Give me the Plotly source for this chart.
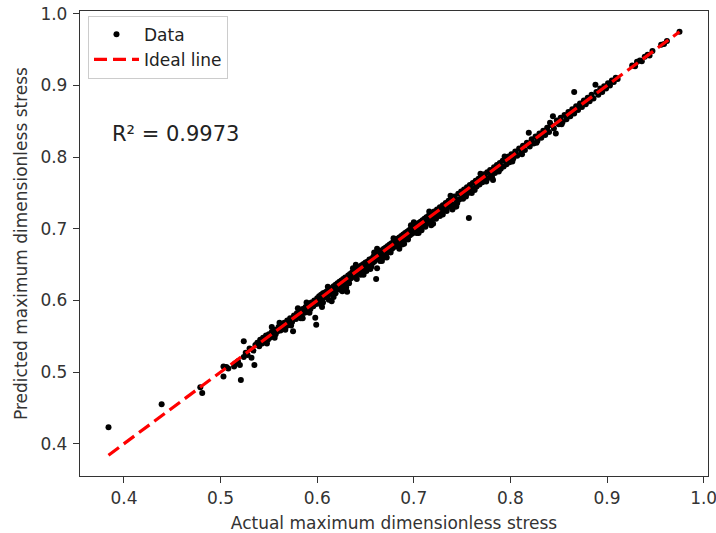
import plotly.graph_objects as go

# Actual (x) and predicted (y) maximum dimensionless stress
actual = [
    0.384, 0.439, 0.479, 0.481,
    0.503, 0.503, 0.506, 0.508, 0.514, 0.515, 0.518, 0.521, 0.520, 0.524,
    0.524, 0.526, 0.528, 0.530, 0.532, 0.534, 0.535, 0.536,
    0.538, 0.540, 0.541, 0.543, 0.544, 0.546, 0.547, 0.549, 0.550, 0.551,
    0.553, 0.554, 0.556, 0.557, 0.559, 0.560, 0.562, 0.563, 0.565, 0.566,
    0.568, 0.569, 0.571, 0.572, 0.574, 0.575, 0.576, 0.578, 0.579, 0.581,
    0.582, 0.584, 0.585, 0.587, 0.588, 0.590, 0.591, 0.593, 0.594, 0.596,
    0.597, 0.598, 0.599, 0.600, 0.599,
    0.601, 0.602, 0.603, 0.604, 0.605, 0.606, 0.607, 0.608, 0.609, 0.610,
    0.611, 0.612, 0.613, 0.614, 0.615, 0.616, 0.617, 0.618, 0.619, 0.620,
    0.621, 0.622, 0.623, 0.624, 0.625, 0.626, 0.627, 0.628, 0.629, 0.630,
    0.631, 0.632, 0.633, 0.634, 0.635, 0.636, 0.637, 0.638, 0.639, 0.640,
    0.641, 0.642, 0.643, 0.644, 0.645, 0.646, 0.647, 0.648, 0.649, 0.650,
    0.651, 0.652, 0.653, 0.654, 0.655, 0.656, 0.657, 0.658, 0.659, 0.660,
    0.661, 0.662, 0.663, 0.664, 0.665, 0.666, 0.667, 0.668, 0.669, 0.670,
    0.671, 0.672, 0.673, 0.674, 0.675, 0.676, 0.677, 0.678, 0.679, 0.680,
    0.681, 0.682, 0.683, 0.684, 0.685, 0.686, 0.687, 0.688, 0.689, 0.690,
    0.691, 0.692, 0.693, 0.694, 0.695, 0.696, 0.697, 0.698, 0.699, 0.700,
    0.701, 0.702, 0.703, 0.704, 0.705, 0.706, 0.707, 0.708, 0.709, 0.710,
    0.711, 0.712, 0.713, 0.714, 0.715, 0.716, 0.717, 0.718, 0.719, 0.720,
    0.721, 0.722, 0.724, 0.725, 0.727, 0.728, 0.730, 0.731, 0.733, 0.734,
    0.736, 0.737, 0.739, 0.740, 0.742, 0.743, 0.744, 0.746, 0.747, 0.749,
    0.750, 0.752, 0.753, 0.755, 0.756, 0.757, 0.758, 0.759, 0.761, 0.762,
    0.764, 0.765, 0.767, 0.768, 0.770, 0.771, 0.773, 0.774, 0.776, 0.777,
    0.779, 0.780, 0.782, 0.783, 0.784, 0.786, 0.787, 0.789, 0.790, 0.792,
    0.793, 0.795, 0.796, 0.798, 0.799,
    0.801, 0.803, 0.805, 0.807, 0.809, 0.811, 0.813, 0.815, 0.817, 0.819,
    0.820, 0.822, 0.824, 0.826, 0.828, 0.830, 0.832, 0.834, 0.836, 0.838,
    0.840, 0.842, 0.844, 0.845, 0.847, 0.848, 0.850, 0.852, 0.854, 0.856,
    0.858, 0.860, 0.862, 0.864, 0.866, 0.866, 0.868, 0.870,
    0.872, 0.874, 0.876, 0.878, 0.880, 0.882, 0.884, 0.886, 0.888, 0.889,
    0.891, 0.893, 0.895, 0.897, 0.899, 0.901, 0.903, 0.905, 0.907, 0.909,
    0.911, 0.926, 0.929, 0.931, 0.934, 0.936, 0.939, 0.942, 0.944, 0.947,
    0.956, 0.959, 0.962, 0.975,
    0.585, 0.604, 0.612, 0.628, 0.641, 0.655, 0.672, 0.690, 0.705, 0.730,
    0.760, 0.553, 0.580, 0.640, 0.662, 0.700,
    0.548, 0.556, 0.561, 0.567, 0.573, 0.583, 0.589, 0.592, 0.606, 0.611,
    0.619, 0.624, 0.633, 0.637, 0.645, 0.651, 0.656, 0.659, 0.665, 0.669,
    0.676, 0.679, 0.684, 0.688, 0.694, 0.697, 0.703, 0.708, 0.712, 0.716,
    0.723, 0.727, 0.734, 0.738, 0.745, 0.751, 0.754, 0.763, 0.769, 0.775,
    0.781, 0.788, 0.794, 0.802, 0.812, 0.827, 0.841, 0.853, 0.617, 0.626,
    0.648, 0.667, 0.685, 0.662, 0.718, 0.740, 0.744, 0.720, 0.631, 0.605,
]

predicted = [
    0.423, 0.455, 0.479, 0.471,
    0.494, 0.508, 0.507, 0.505, 0.508, 0.512, 0.515, 0.489, 0.510, 0.543,
    0.521, 0.527, 0.524, 0.533, 0.520, 0.530, 0.510, 0.538,
    0.541, 0.536, 0.545, 0.540, 0.548, 0.543, 0.551, 0.545, 0.553, 0.548,
    0.556, 0.550, 0.559, 0.553, 0.557, 0.563, 0.558, 0.566, 0.560, 0.569,
    0.564, 0.572, 0.566, 0.575, 0.570, 0.557, 0.579, 0.574, 0.582, 0.577,
    0.585, 0.580, 0.588, 0.583, 0.591, 0.586, 0.594, 0.588, 0.597, 0.592,
    0.600, 0.576, 0.566, 0.603, 0.595,
    0.598, 0.606, 0.601, 0.608, 0.602, 0.610, 0.604, 0.611, 0.606, 0.613,
    0.608, 0.615, 0.609, 0.617, 0.599, 0.612, 0.620, 0.614, 0.622, 0.616,
    0.624, 0.618, 0.626, 0.620, 0.628, 0.622, 0.630, 0.624, 0.632, 0.618,
    0.628, 0.635, 0.629, 0.637, 0.631, 0.639, 0.633, 0.641, 0.634, 0.643,
    0.637, 0.645, 0.638, 0.647, 0.640, 0.649, 0.642, 0.651, 0.644, 0.653,
    0.646, 0.654, 0.648, 0.657, 0.650, 0.658, 0.652, 0.661, 0.654, 0.662,
    0.630, 0.658, 0.666, 0.659, 0.668, 0.661, 0.670, 0.663, 0.672, 0.664,
    0.674, 0.666, 0.676, 0.669, 0.678, 0.670, 0.680, 0.673, 0.682, 0.675,
    0.684, 0.677, 0.686, 0.679, 0.688, 0.680, 0.690, 0.683, 0.692, 0.685,
    0.694, 0.687, 0.696, 0.689, 0.698, 0.691, 0.700, 0.693, 0.702, 0.695,
    0.704, 0.697, 0.706, 0.699, 0.708, 0.700, 0.710, 0.703, 0.712, 0.705,
    0.714, 0.707, 0.716, 0.708, 0.718, 0.711, 0.720, 0.713, 0.722, 0.715,
    0.724, 0.717, 0.727, 0.720, 0.730, 0.722, 0.733, 0.726, 0.736, 0.728,
    0.739, 0.731, 0.742, 0.734, 0.745, 0.731, 0.740, 0.749, 0.741, 0.752,
    0.744, 0.755, 0.747, 0.758, 0.750, 0.715, 0.761, 0.753, 0.764, 0.756,
    0.767, 0.759, 0.770, 0.762, 0.773, 0.765, 0.776, 0.768, 0.779, 0.771,
    0.782, 0.774, 0.768, 0.786, 0.778, 0.789, 0.781, 0.792, 0.784, 0.795,
    0.787, 0.798, 0.790, 0.801, 0.793,
    0.804, 0.798, 0.808, 0.802, 0.812, 0.806, 0.816, 0.810, 0.820, 0.834,
    0.815, 0.825, 0.819, 0.829, 0.823, 0.833, 0.827, 0.837, 0.831, 0.841,
    0.835, 0.845, 0.857, 0.840, 0.833, 0.851, 0.846, 0.855, 0.849, 0.859,
    0.853, 0.863, 0.857, 0.867, 0.891, 0.861, 0.871, 0.866,
    0.875, 0.870, 0.879, 0.874, 0.883, 0.878, 0.887, 0.882, 0.901, 0.891,
    0.887, 0.896, 0.891, 0.899, 0.896, 0.903, 0.900, 0.907, 0.905, 0.911,
    0.909, 0.928, 0.927, 0.933, 0.935, 0.934, 0.940, 0.943, 0.942, 0.948,
    0.957, 0.958, 0.962, 0.975,
    0.575, 0.594, 0.601, 0.617, 0.630, 0.644, 0.660, 0.679, 0.694, 0.720,
    0.750, 0.563, 0.589, 0.650, 0.672, 0.709,
    0.540, 0.548, 0.569, 0.559, 0.565, 0.575, 0.597, 0.583, 0.597, 0.619,
    0.610, 0.615, 0.624, 0.645, 0.636, 0.641, 0.647, 0.667, 0.655, 0.660,
    0.667, 0.687, 0.675, 0.678, 0.685, 0.705, 0.694, 0.698, 0.703, 0.724,
    0.714, 0.718, 0.725, 0.746, 0.736, 0.742, 0.745, 0.754, 0.777, 0.766,
    0.772, 0.780, 0.801, 0.794, 0.804, 0.820, 0.848, 0.846, 0.605, 0.613,
    0.636, 0.655, 0.672, 0.645, 0.705, 0.727, 0.731, 0.707, 0.612, 0.591,
]

r2_text = "R² = 0.9973"
x_title = "Actual maximum dimensionless stress"
y_title = "Predicted maximum dimensionless stress"
tick_vals = [0.4, 0.5, 0.6, 0.7, 0.8, 0.9, 1.0]
tick_text = ["0.4", "0.5", "0.6", "0.7", "0.8", "0.9", "1.0"]

lo, hi = min(actual), max(actual)

fig = go.Figure()
fig.add_trace(go.Scatter(
    x=actual, y=predicted, mode="markers", name="Data",
    marker=dict(color="black", size=6, line=dict(width=0)),
    legendgroup="a",
))
fig.add_trace(go.Scatter(
    x=[lo, hi], y=[lo, hi], mode="lines", name="Ideal line",
    line=dict(color="#ff0000", width=3.2, dash="13px,6px"),
    legendgroup="b",
))

axis_common = dict(
    tickvals=tick_vals, ticktext=tick_text,
    ticks="outside", ticklen=6, tickwidth=1.3, tickcolor="#333333",
    showline=True, linecolor="#333333", linewidth=1.3, mirror=True,
    showgrid=False, zeroline=False, automargin=False,
    tickfont=dict(size=17, color="#333333"),
    ticklabeloverflow="allow",
)

fig.update_layout(
    width=716, height=533,
    margin=dict(l=80, r=8, t=11, b=57),
    paper_bgcolor="white", plot_bgcolor="white",
    font=dict(family="DejaVu Sans", size=17, color="#333333"),
    xaxis=dict(range=[0.3545, 1.0045],
               title=dict(text=x_title, standoff=12, font=dict(size=17)),
               ticklabelstandoff=0,
               **axis_common),
    yaxis=dict(range=[0.355, 1.004],
               title=dict(text=y_title, standoff=8, font=dict(size=17)),
               ticklabelstandoff=2,
               **axis_common),
    legend=dict(x=0.0127, y=0.99, xanchor="left", yanchor="top",
                bgcolor="white", bordercolor="#cccccc", borderwidth=1,
                font=dict(size=17, color="#222222"), tracegroupgap=0,
                itemwidth=45),
    showlegend=True,
    annotations=[dict(
        x=0.3855, y=0.832, xref="x", yref="y", text=r2_text,
        showarrow=False, xanchor="left", yanchor="middle",
        font=dict(size=21, color="#222222"),
    )],
)

# remove the browser's default 8px body margin so the figure fills the window
fig.write_html("out.html", config={"displayModeBar": False},
               post_script="document.body.style.margin='0';")
